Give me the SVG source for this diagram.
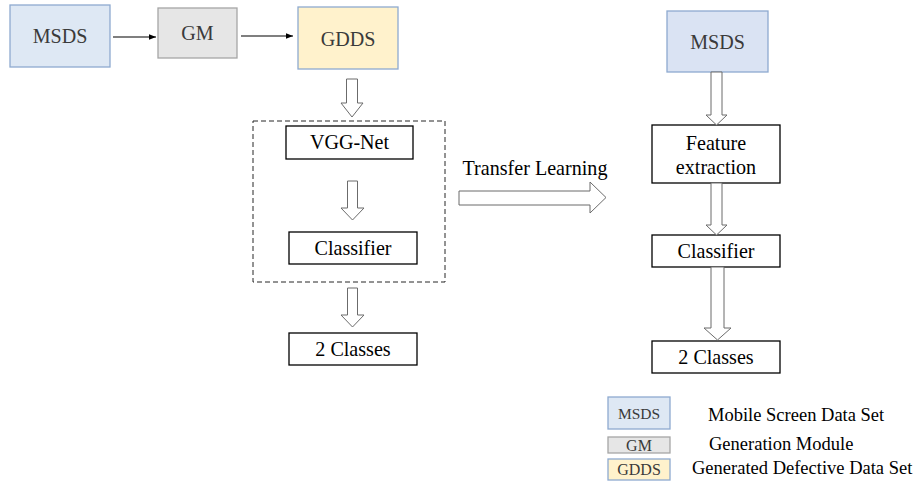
<svg xmlns="http://www.w3.org/2000/svg" width="913" height="484" viewBox="0 0 913 484" font-family="'Liberation Serif', 'Times New Roman', serif">
  <style>
    text { font-family: "Liberation Serif", "Times New Roman", serif; }
    .t { text-anchor: middle; }
    .lbl { font-size: 20.1px; fill: #000; }
    .soft { fill: #3a3a3a; }
    .box { fill: #fff; stroke: #000; stroke-width: 1.3; }
    .blue { fill: #dee8f4; stroke: #8eaad0; stroke-width: 1.3; }
    .blue2 { fill: #dae3f3; stroke: #8eaad0; stroke-width: 1.3; }
    .grey { fill: #e6e6e6; stroke: #a6a6a6; stroke-width: 1.3; }
    .yellow { fill: #fff2cc; stroke: #8eaad0; stroke-width: 1.3; }
    .barrow { fill: #fff; stroke: #6b6b6b; stroke-width: 1; stroke-linejoin: miter; }
    .line { stroke: #000; stroke-width: 1.2; fill: none; }
    .legend { font-size: 18.5px; fill: #000; }
  </style>
  <defs>
    <marker id="head" viewBox="0 0 10 10" refX="10" refY="5" markerWidth="7" markerHeight="7" markerUnits="userSpaceOnUse" orient="auto">
      <path d="M0,1 L10,5 L0,9 Z" fill="#000"/>
    </marker>
  </defs>

  <rect width="913" height="484" fill="#fff"/>

  <!-- top row: data generation -->
  <g id="msds-src">
    <rect class="blue" x="10" y="5" width="100" height="62"/>
    <text class="t lbl soft" x="60" y="43">MSDS</text>
  </g>
  <g id="gm">
    <rect class="grey" x="158" y="8" width="79" height="50"/>
    <text class="t lbl soft" x="197.5" y="40">GM</text>
  </g>
  <g id="gdds">
    <rect class="yellow" x="298" y="7" width="100" height="62"/>
    <text class="t lbl soft" x="348" y="46">GDDS</text>
  </g>

  <!-- left pipeline -->
  <g id="vgg-group">
    <rect x="253" y="121" width="192" height="161" fill="none" stroke="#262626" stroke-width="1" stroke-dasharray="5,3"/>
  </g>
  <g id="vgg">
    <rect class="box" x="286" y="126" width="127" height="33"/>
    <text class="t lbl" x="349.5" y="149">VGG-Net</text>
  </g>
  <g id="classifier-l">
    <rect class="box" x="289" y="232" width="128" height="32"/>
    <text class="t lbl" x="353" y="255">Classifier</text>
  </g>
  <g id="classes-l">
    <rect class="box" x="289" y="333" width="128" height="32"/>
    <text class="t lbl" x="353" y="356">2 Classes</text>
  </g>

  <!-- right pipeline -->
  <g id="msds-tgt">
    <rect class="blue2" x="667" y="11" width="101" height="61"/>
    <text class="t lbl soft" x="717.5" y="49">MSDS</text>
  </g>
  <g id="feature">
    <rect class="box" x="652" y="125" width="128" height="58"/>
    <text class="t lbl" x="716" y="150">Feature</text>
    <text class="t lbl" x="716" y="174">extraction</text>
  </g>
  <g id="classifier-r">
    <rect class="box" x="652" y="235" width="128" height="32"/>
    <text class="t lbl" x="716" y="258">Classifier</text>
  </g>
  <g id="classes-r">
    <rect class="box" x="652" y="341" width="128" height="32"/>
    <text class="t lbl" x="716" y="364">2 Classes</text>
  </g>

  <!-- connectors -->
  <g id="connectors">
    <line class="line" x1="113" y1="37" x2="156" y2="37" marker-end="url(#head)"/>
    <line class="line" x1="241" y1="36" x2="293" y2="36" marker-end="url(#head)"/>

    <!-- hollow block arrows, left column -->
    <path class="barrow" d="M346.5,79 H357.5 V103 H363 L352,117 L341,103 H346.5 Z"/>
    <path class="barrow" d="M347.5,181 H357.5 V208 H364 L352.5,220 L341,208 H347.5 Z"/>
    <path class="barrow" d="M347.5,288 H357.5 V315 H364 L352.5,327 L341,315 H347.5 Z"/>

    <!-- hollow block arrows, right column -->
    <path class="barrow" d="M711,72 H722 V115 H727 L716.5,125 L706,115 H711 Z"/>
    <path class="barrow" d="M711,183 H722 V225 H727 L716.5,235 L706,225 H711 Z"/>
    <path class="barrow" d="M711,267 H724 V328 H731 L717.5,340 L704,328 H711 Z"/>

    <!-- transfer learning arrow -->
    <path class="barrow" d="M459,191 H590 V182 L606,197.5 L590,213 V205 H459 Z"/>
  </g>
  <text class="t lbl" x="535" y="175">Transfer Learning</text>

  <!-- legend -->
  <g id="legend">
    <rect class="blue" x="608" y="397" width="62" height="32"/>
    <text class="t soft" x="639" y="418.5" font-size="15.5">MSDS</text>
    <rect class="grey" x="608" y="437" width="62" height="16"/>
    <text class="t soft" x="639" y="451" font-size="16">GM</text>
    <rect class="yellow" x="608" y="459" width="62" height="21"/>
    <text class="t soft" x="639" y="475" font-size="16">GDDS</text>
    <text class="legend" x="708" y="421">Mobile Screen Data Set</text>
    <text class="legend" x="709" y="450">Generation Module</text>
    <text class="legend" x="692" y="474">Generated Defective Data Set</text>
  </g>
</svg>
